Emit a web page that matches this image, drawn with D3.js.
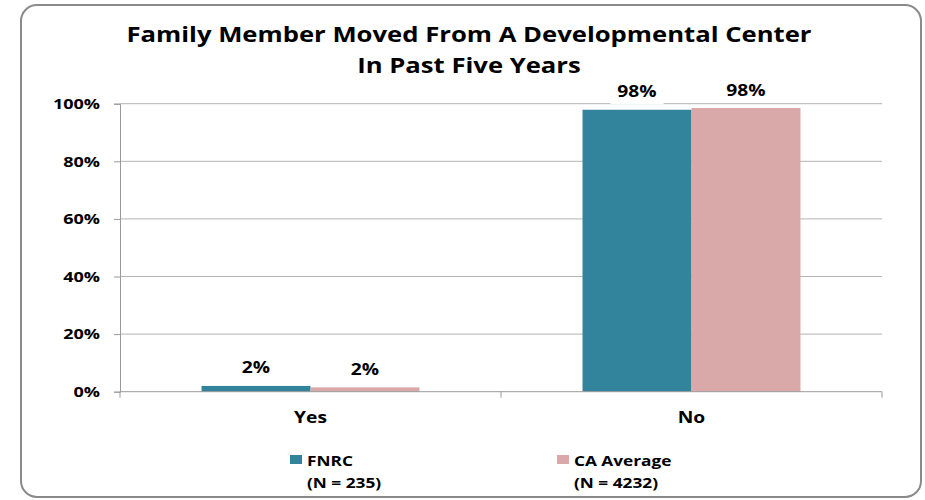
<!DOCTYPE html>
<html>
<head>
<meta charset="utf-8">
<script src="https://cdn.jsdelivr.net/npm/d3@7"></script>
<style>
  html, body { margin: 0; padding: 0; background: #fff; }
  svg { display: block; }
  text { font-family: "Open Sans", sans-serif; font-weight: bold; fill: #000; }
</style>
</head>
<body>
<svg id="chart" width="925" height="500"></svg>
<script>
// ---- data ----
const categories = ["Yes", "No"];
const seriesNames = ["FNRC", "CA Average"];
const seriesN = ["(N = 235)", "(N = 4232)"];
const fnrcValues = [0.020, 0.979];
const caValues = [0.015, 0.985];
const fnrcLabels = ["2%", "98%"];
const caLabels = ["2%", "98%"];
const yTicks = [0, 0.2, 0.4, 0.6, 0.8, 1.0];
const titleLines = ["Family Member Moved From A Developmental Center", "In Past Five Years"];
const colors = ["#31849B", "#D9A8A8"];

const SX = 1.2; // horizontal stretch of text in reference
const svg = d3.select("#chart");

function stretch(sel, factor) {
  sel.each(function () {
    const w = this.getComputedTextLength();
    d3.select(this).attr("textLength", w * (factor || SX)).attr("lengthAdjust", "spacingAndGlyphs");
  });
  return sel;
}

// frame
svg.append("rect")
  .attr("x", 21).attr("y", 5).attr("width", 900).attr("height", 492)
  .attr("rx", 16).attr("ry", 16)
  .attr("fill", "#fff").attr("stroke", "#8a8a8a").attr("stroke-width", 2);

// title
const title = svg.append("g");
let titleFactor = null;
titleLines.forEach((t, i) => {
  const el = title.append("text")
    .attr("x", 469).attr("y", 41.5 + i * 31)
    .attr("text-anchor", "middle")
    .style("font-size", "22px")
    .text(t);
  if (titleFactor === null) titleFactor = 685 / el.node().getComputedTextLength();
  stretch(el, titleFactor);
});

// scales
const x0 = d3.scaleBand().domain(categories).range([120, 882])
  .paddingInner(0.428).paddingOuter(0.214);
const x1 = d3.scaleBand().domain(seriesNames).range([0, x0.bandwidth()]).padding(0);
const y = d3.scaleLinear().domain([0, 1]).range([391.7, 103.7]);

// gridlines
svg.append("g").selectAll("line").data(yTicks.slice(1)).join("line")
  .attr("x1", 120).attr("x2", 882)
  .attr("y1", d => y(d)).attr("y2", d => y(d))
  .attr("stroke", "#b3b3b3").attr("stroke-width", 1);

// y axis
const yAxis = svg.append("g").attr("transform", "translate(120,0)")
  .call(d3.axisLeft(y).tickValues(yTicks).tickFormat(d3.format(".0%")).tickSize(6).tickPadding(14));
yAxis.select(".domain").attr("stroke", "#9a9a9a");
yAxis.selectAll(".tick line").attr("stroke", "#9a9a9a");
yAxis.selectAll(".tick text").style("font-size", "15px").attr("fill", "#000")
  .attr("font-family", null);
stretch(yAxis.selectAll(".tick text"));

// bars
const series = [fnrcValues, caValues];
const labels = [fnrcLabels, caLabels];
const barG = svg.append("g");
seriesNames.forEach((s, si) => {
  barG.selectAll(null).data(categories).join("rect")
    .attr("x", (c) => x0(c) + x1(s))
    .attr("width", x1.bandwidth())
    .attr("y", (c, i) => y(series[si][i]))
    .attr("height", (c, i) => y(0) - y(series[si][i]))
    .attr("fill", colors[si]);
});

// x axis
const xAxisG = svg.append("g");
xAxisG.append("line").attr("x1", 120).attr("x2", 882).attr("y1", y(0)).attr("y2", y(0))
  .attr("stroke", "#9a9a9a");
const bounds = d3.range(categories.length + 1).map(i => 120 + i * x0.step());
xAxisG.selectAll(".xt").data(bounds).join("line")
  .attr("x1", d => d).attr("x2", d => d)
  .attr("y1", y(0)).attr("y2", y(0) + 6)
  .attr("stroke", "#9a9a9a");
const xl = xAxisG.selectAll(".xl").data(categories).join("text")
  .attr("x", c => x0(c) + x0.bandwidth() / 2)
  .attr("y", 422.5)
  .attr("text-anchor", "middle")
  .style("font-size", "16px")
  .text(c => c);
stretch(xl);

// data labels with white boxes
seriesNames.forEach((s, si) => {
  categories.forEach((c, i) => {
    const cx = x0(c) + x1(s) + x1.bandwidth() / 2;
    const by = y(series[si][i]) - 12.5;
    const g = svg.append("g");
    const bg = g.append("rect").attr("fill", "#fff");
    const t = g.append("text").attr("x", cx).attr("y", by)
      .attr("text-anchor", "middle").style("font-size", "16px").text(labels[si][i]);
    stretch(t);
    const w = +t.attr("textLength");
    bg.attr("x", cx - w / 2 - 7).attr("y", by - 15).attr("width", w + 14).attr("height", 22);
  });
});

// legend
const legX = [290, 557];
seriesNames.forEach((s, si) => {
  const g = svg.append("g");
  g.append("rect").attr("x", legX[si]).attr("y", 455).attr("width", 12).attr("height", 9)
    .attr("fill", colors[si]);
  stretch(g.append("text").attr("x", legX[si] + 17).attr("y", 465.5)
    .style("font-size", "15px").text(s), 1.15);
  stretch(g.append("text").attr("x", legX[si] + 17).attr("y", 487.5)
    .style("font-size", "15px").text(seriesN[si]), 1.15);
});
</script>
</body>
</html>
